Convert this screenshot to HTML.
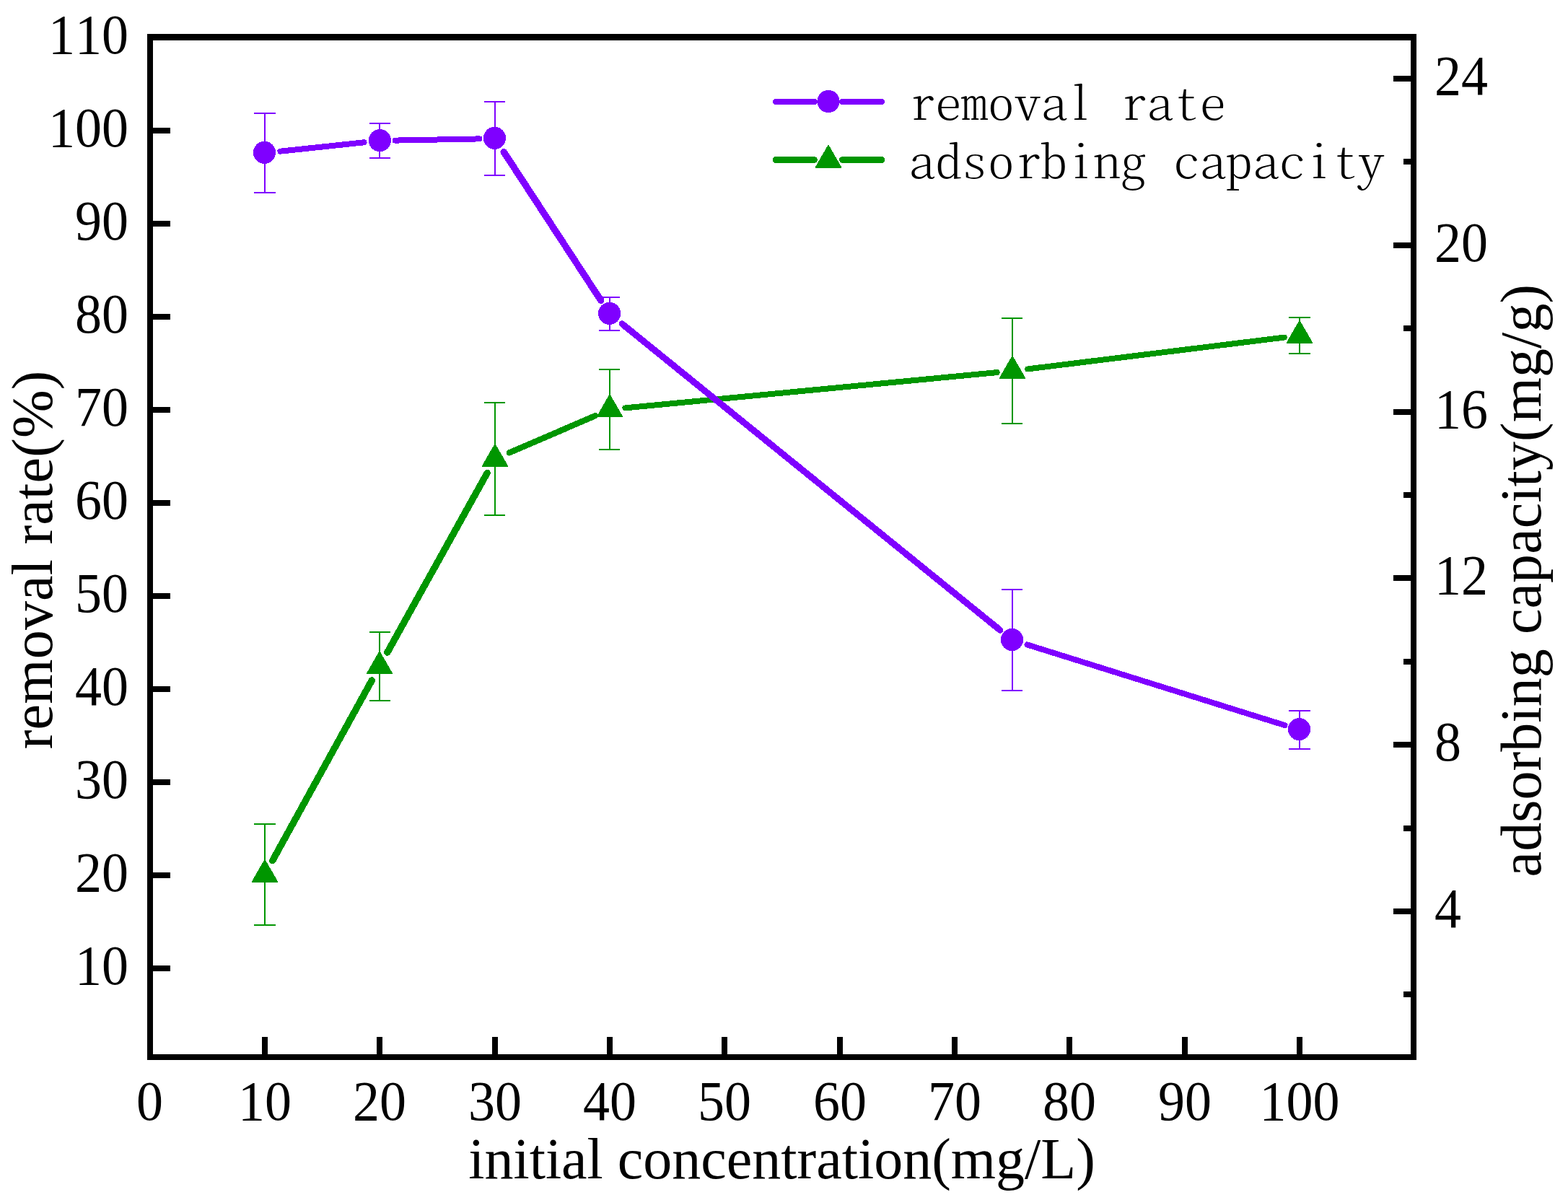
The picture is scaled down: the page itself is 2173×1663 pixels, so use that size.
<!DOCTYPE html>
<html lang="en">
<head>
<meta charset="utf-8">
<title>Removal rate and adsorbing capacity vs initial concentration</title>
<style>
html,body{margin:0;padding:0;background:#fff;}
body{width:2173px;height:1663px;overflow:hidden;}
svg{display:block;}
.tk{font-family:"Liberation Serif",serif;font-size:74px;letter-spacing:0px;font-kerning:none;fill:#000;}
.ti{font-family:"Liberation Serif",serif;font-size:80px;font-kerning:none;fill:#000;}
.lg{font-family:"Noto Serif CJK SC","Noto Serif CJK JP","Liberation Mono",monospace;font-size:73.33px;font-weight:200;font-feature-settings:"hwid" 1;fill:#000;}
</style>
</head>
<body>
<svg width="2173" height="1663" viewBox="0 0 2173 1663" role="img" aria-label="Removal rate (%) and adsorbing capacity (mg/g) versus initial concentration (mg/L)">
<rect x="0" y="0" width="2173" height="1663" fill="#fff"/>
<g id="frame" fill="#000" shape-rendering="crispEdges">
<rect x="204" y="47" width="1759" height="9"/>
<rect x="204" y="1461" width="1759" height="8"/>
<rect x="204" y="47" width="8" height="1422"/>
<rect x="1955" y="47" width="8" height="1422"/>
<rect x="212" y="1338" width="24" height="8"/>
<rect x="212" y="1209" width="24" height="8"/>
<rect x="212" y="1080" width="24" height="8"/>
<rect x="212" y="951" width="24" height="8"/>
<rect x="212" y="822" width="24" height="8"/>
<rect x="212" y="693" width="24" height="8"/>
<rect x="212" y="564" width="24" height="8"/>
<rect x="212" y="435" width="24" height="8"/>
<rect x="212" y="306" width="24" height="8"/>
<rect x="212" y="177" width="24" height="8"/>
<rect x="363" y="1437" width="8" height="24"/>
<rect x="522" y="1437" width="8" height="24"/>
<rect x="682" y="1437" width="8" height="24"/>
<rect x="841" y="1437" width="8" height="24"/>
<rect x="1000" y="1437" width="8" height="24"/>
<rect x="1160" y="1437" width="8" height="24"/>
<rect x="1319" y="1437" width="8" height="24"/>
<rect x="1478" y="1437" width="8" height="24"/>
<rect x="1638" y="1437" width="8" height="24"/>
<rect x="1797" y="1437" width="8" height="24"/>
<rect x="1931" y="1259" width="24" height="8"/>
<rect x="1931" y="1028" width="24" height="8"/>
<rect x="1931" y="797" width="24" height="8"/>
<rect x="1931" y="567" width="24" height="8"/>
<rect x="1931" y="336" width="24" height="8"/>
<rect x="1931" y="105" width="24" height="8"/>
<rect x="1945" y="1374" width="10" height="8"/>
<rect x="1945" y="1144" width="10" height="8"/>
<rect x="1945" y="913" width="10" height="8"/>
<rect x="1945" y="682" width="10" height="8"/>
<rect x="1945" y="451" width="10" height="8"/>
<rect x="1945" y="220" width="10" height="8"/>
</g>
<g id="left-labels">
<text class="tk" transform="translate(178 73.8) scale(1 1.06)" text-anchor="end">110</text>
<text class="tk" transform="translate(178 1363.8) scale(1 1.06)" text-anchor="end">10</text>
<text class="tk" transform="translate(178 1234.8) scale(1 1.06)" text-anchor="end">20</text>
<text class="tk" transform="translate(178 1105.8) scale(1 1.06)" text-anchor="end">30</text>
<text class="tk" transform="translate(178 976.8) scale(1 1.06)" text-anchor="end">40</text>
<text class="tk" transform="translate(178 847.8) scale(1 1.06)" text-anchor="end">50</text>
<text class="tk" transform="translate(178 718.8) scale(1 1.06)" text-anchor="end">60</text>
<text class="tk" transform="translate(178 589.8) scale(1 1.06)" text-anchor="end">70</text>
<text class="tk" transform="translate(178 460.8) scale(1 1.06)" text-anchor="end">80</text>
<text class="tk" transform="translate(178 331.8) scale(1 1.06)" text-anchor="end">90</text>
<text class="tk" transform="translate(178 202.8) scale(1 1.06)" text-anchor="end">100</text>
</g>
<g id="bottom-labels">
<text class="tk" transform="translate(207.5 1552) scale(1 1.06)" text-anchor="middle">0</text>
<text class="tk" transform="translate(367 1552) scale(1 1.06)" text-anchor="middle">10</text>
<text class="tk" transform="translate(526 1552) scale(1 1.06)" text-anchor="middle">20</text>
<text class="tk" transform="translate(686 1552) scale(1 1.06)" text-anchor="middle">30</text>
<text class="tk" transform="translate(845 1552) scale(1 1.06)" text-anchor="middle">40</text>
<text class="tk" transform="translate(1004 1552) scale(1 1.06)" text-anchor="middle">50</text>
<text class="tk" transform="translate(1164 1552) scale(1 1.06)" text-anchor="middle">60</text>
<text class="tk" transform="translate(1323 1552) scale(1 1.06)" text-anchor="middle">70</text>
<text class="tk" transform="translate(1482 1552) scale(1 1.06)" text-anchor="middle">80</text>
<text class="tk" transform="translate(1642 1552) scale(1 1.06)" text-anchor="middle">90</text>
<text class="tk" transform="translate(1801 1552) scale(1 1.06)" text-anchor="middle">100</text>
</g>
<g id="right-labels">
<text class="tk" transform="translate(1988 1285) scale(1 1.06)" text-anchor="start">4</text>
<text class="tk" transform="translate(1988 1054) scale(1 1.06)" text-anchor="start">8</text>
<text class="tk" transform="translate(1988 823) scale(1 1.06)" text-anchor="start">12</text>
<text class="tk" transform="translate(1988 593) scale(1 1.06)" text-anchor="start">16</text>
<text class="tk" transform="translate(1988 362) scale(1 1.06)" text-anchor="start">20</text>
<text class="tk" transform="translate(1988 131) scale(1 1.06)" text-anchor="start">24</text>
</g>
<g id="titles">
<text class="ti" transform="translate(1083.5 1632.5)" text-anchor="middle">initial concentration(mg/L)</text>
<text class="ti" transform="translate(71.8 775.8) rotate(-90)" text-anchor="middle" letter-spacing="0.2">removal rate(%)</text>
<text class="ti" transform="translate(2135 804.6) rotate(-90)" text-anchor="middle" letter-spacing="0.08">adsorbing capacity(mg/g)</text>
</g>
<g id="adsorbing-capacity" shape-rendering="crispEdges">
<g fill="#009600">
<rect x="366" y="1142" width="2" height="140"/>
<rect x="352" y="1141" width="30" height="2"/>
<rect x="352" y="1281" width="30" height="2"/>
<rect x="525" y="876" width="2" height="95"/>
<rect x="512" y="875" width="29" height="2"/>
<rect x="512" y="970" width="29" height="2"/>
<rect x="685" y="558" width="2" height="156"/>
<rect x="671" y="557" width="29" height="2"/>
<rect x="671" y="713" width="29" height="2"/>
<rect x="844" y="512" width="2" height="111"/>
<rect x="830" y="511" width="29" height="2"/>
<rect x="830" y="622" width="29" height="2"/>
<rect x="1402" y="441" width="2" height="146"/>
<rect x="1388" y="440" width="29" height="2"/>
<rect x="1388" y="586" width="29" height="2"/>
<rect x="1800" y="440" width="2" height="50"/>
<rect x="1786" y="439" width="30" height="2"/>
<rect x="1786" y="489" width="30" height="2"/>
</g>
<g stroke="#009600" stroke-linecap="round" fill="none">
<line x1="377.7" y1="1192.6" x2="515.3" y2="942.9" stroke-width="9.4"/>
<line x1="536.8" y1="904.1" x2="675.2" y2="655.4" stroke-width="9.4"/>
<line x1="705.9" y1="627.4" x2="825.1" y2="576.1" stroke-width="8.3"/>
<line x1="866.4" y1="565.4" x2="1381.6" y2="516.1" stroke-width="8"/>
<line x1="1424.3" y1="511.4" x2="1779.7" y2="467.6" stroke-width="8"/>
</g>
<g fill="#009600" stroke="#009600" stroke-width="0">
<polygon points="367,1192.2 384.1,1221.9 349.9,1221.9" stroke-width="2" stroke-linejoin="round"/>
<polygon points="526,903.7 543.1,933.4 508.9,933.4" stroke-width="2" stroke-linejoin="round"/>
<polygon points="686,616.2 703.1,645.9 668.9,645.9" stroke-width="2" stroke-linejoin="round"/>
<polygon points="845,547.7 862.1,577.4 827.9,577.4" stroke-width="2" stroke-linejoin="round"/>
<polygon points="1403,494.2 1420.1,523.9 1385.9,523.9" stroke-width="2" stroke-linejoin="round"/>
<polygon points="1801,445.2 1818.1,474.9 1783.9,474.9" stroke-width="2" stroke-linejoin="round"/>
</g>
</g>
<g id="removal-rate" shape-rendering="crispEdges">
<g fill="#7F00FF">
<rect x="366" y="157" width="2" height="110"/>
<rect x="352" y="156" width="30" height="2"/>
<rect x="352" y="266" width="30" height="2"/>
<rect x="525" y="171" width="2" height="48"/>
<rect x="512" y="170" width="29" height="2"/>
<rect x="512" y="218" width="29" height="2"/>
<rect x="685" y="141" width="2" height="102"/>
<rect x="671" y="140" width="29" height="2"/>
<rect x="671" y="242" width="29" height="2"/>
<rect x="844" y="412" width="2" height="46"/>
<rect x="830" y="411" width="29" height="2"/>
<rect x="830" y="457" width="29" height="2"/>
<rect x="1402" y="817" width="2" height="140"/>
<rect x="1388" y="816" width="29" height="2"/>
<rect x="1388" y="956" width="29" height="2"/>
<rect x="1800" y="985" width="2" height="53"/>
<rect x="1786" y="984" width="30" height="2"/>
<rect x="1786" y="1037" width="30" height="2"/>
</g>
<g stroke="#7F00FF" stroke-linecap="round" fill="none">
<line x1="388.4" y1="209.7" x2="504.6" y2="197.3" stroke-width="8"/>
<line x1="547.5" y1="194.6" x2="664.5" y2="192.4" stroke-width="8"/>
<line x1="698.2" y1="210.6" x2="832.8" y2="416.4" stroke-width="9.4"/>
<line x1="862.1" y1="448.8" x2="1385.9" y2="873.2" stroke-width="9"/>
<line x1="1423.5" y1="893.4" x2="1780.5" y2="1005.1" stroke-width="8"/>
</g>
<g fill="#7F00FF" stroke="#7F00FF" stroke-width="0">
<circle cx="366.5" cy="211.4" r="15.6"/>
<circle cx="526.4" cy="194.6" r="15.6"/>
<circle cx="685.5" cy="191.4" r="15.6"/>
<circle cx="844.6" cy="434.4" r="15.6"/>
<circle cx="1402.5" cy="886.5" r="15.6"/>
<circle cx="1800.5" cy="1010.6" r="15.6"/>
</g>
</g>
<g id="legend" shape-rendering="crispEdges">
<g stroke="#7F00FF" stroke-width="8" stroke-linecap="round"><line x1="1075" y1="141" x2="1129" y2="141"/><line x1="1167" y1="141" x2="1222" y2="141"/></g>
<circle cx="1148" cy="140.5" r="15.6" fill="#7F00FF"/>
<g stroke="#009600" stroke-width="9" stroke-linecap="round"><line x1="1075.3" y1="221.5" x2="1128.5" y2="221.5"/><line x1="1167.5" y1="221.5" x2="1221.6" y2="221.5"/></g>
<polygon points="1148,202 1165.1,231.7 1130.9,231.7" stroke-width="2" stroke-linejoin="round" fill="#009600" stroke="#009600"/>
</g>
<g id="legend-text">
<text class="lg" transform="translate(1259 165.7) scale(1 0.835)" textLength="439.98" lengthAdjust="spacing">removal rate</text>
<text class="lg" transform="translate(1259 246.5) scale(1 0.835)" textLength="659.97" lengthAdjust="spacing">adsorbing capacity</text>
</g>
</svg>
</body>
</html>
